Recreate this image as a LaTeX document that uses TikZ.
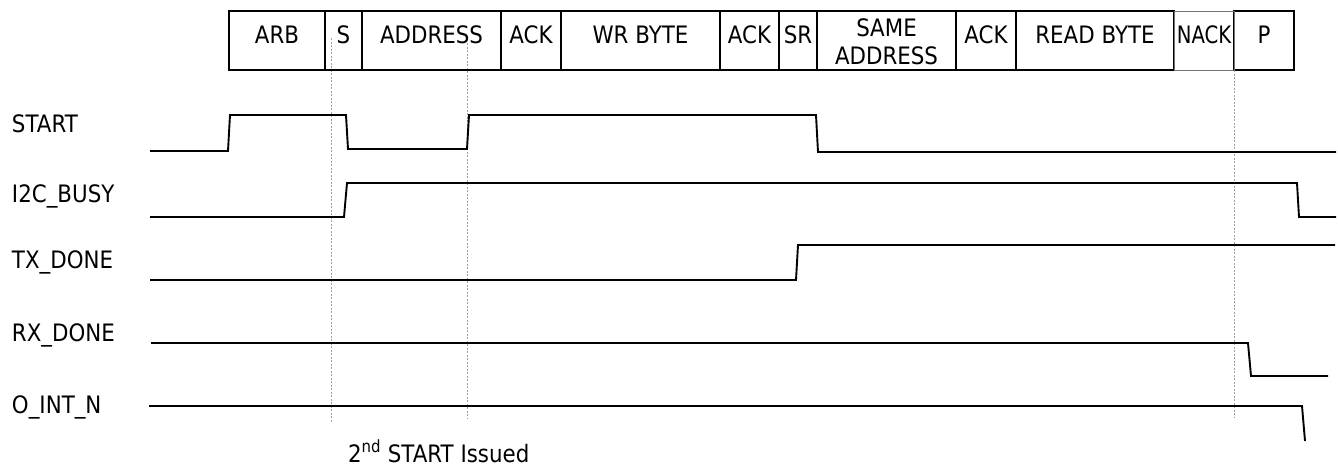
\documentclass[tikz,border=0pt]{standalone}
\usepackage{fontspec}
\setmainfont{DejaVu Sans}[FakeStretch=0.89]
\usepackage{graphicx}
\begin{document}
\begin{tikzpicture}[x=1pt,y=-1pt,
  every node/.style={font=\fontsize{24}{28}\selectfont, inner sep=0pt, outer sep=0pt},
  segbox/.style={draw=black, line width=1.9pt, minimum height=59pt},
  seg/.style={segbox, text height=17.5pt, text depth=12pt},
  wave/.style={line width=1.9pt, line join=miter},
  guide/.style={draw=gray!75, line width=0.8pt, dash pattern=on 2pt off 1.5pt},
  siglabel/.style={anchor=base west}]
\useasboundingbox (0,0) rectangle (1338,467);

% vertical guide lines marking the key instants
\coordinate (g1t) at (331.5,38);  \coordinate (g1b) at (331.5,423);
\coordinate (g2t) at (467,43);    \coordinate (g2b) at (467,419);
\coordinate (g3t) at (1234,28);   \coordinate (g3b) at (1234,417);
\draw[guide] (g1t) -- (g1b);
\draw[guide] (g2t) -- (g2b);
\draw[guide] (g3t) -- (g3b);

% bus transaction frame
\node[seg, minimum width=96pt]  (arb)   at (277,40.5)    {ARB};
\node[seg, minimum width=37pt]  (s)     at (343.5,40.5)  {S};
\node[seg, minimum width=139pt] (addr)  at (431.5,40.5)  {ADDRESS};
\node[seg, minimum width=60pt]  (ack1)  at (531,40.5)    {ACK};
\node[seg, minimum width=159pt] (wr)    at (640.5,40.5)  {WR BYTE};
\node[seg, minimum width=59pt]  (ack2)  at (749.5,40.5)  {ACK};
\node[seg, minimum width=38pt]  (sr)    at (798,40.5)    {SR};
\node[segbox, minimum width=139pt, align=center] (same) at (886.5,40.5)
     {\rule{0pt}{21pt}SAME\\ADDRESS};
\node[seg, minimum width=60pt]  (ack3)  at (986,40.5)    {ACK};
\node[seg, minimum width=158pt] (rd)    at (1095,40.5)   {READ BYTE};
\node[seg, minimum width=60pt]  (stop)  at (1264,40.5)   {P};
\node[seg, draw=black!55, line width=1pt, minimum width=60pt] (nack) at (1204,40.5)
     {\scalebox{0.92}[1]{NACK}};

% signal names
\node[siglabel] (lstart) at (12,132) {START};
\node[siglabel] (lbusy)  at (12,202) {I2C\_BUSY};
\node[siglabel] (ltx)    at (12,268) {TX\_DONE};
\node[siglabel] (lrx)    at (12,341) {RX\_DONE};
\node[siglabel] (lint)   at (12,413) {O\_INT\_N};

% waveforms
\draw[wave] (150,151) -- (228,151) -- (230,115) -- (346,115) -- (348,149)
  -- (467,149) -- (469,115) -- (816,115) -- (818,152) -- (1336,152);
\draw[wave] (150,217) -- (344,217) -- (347,183) -- (1297,183) -- (1299,217) -- (1336,217);
\draw[wave] (150,280) -- (796,280) -- (798,245) -- (1335,245);
\draw[wave] (151,343) -- (1248,343) -- (1251,376) -- (1328,376);
\draw[wave] (149,406) -- (1302,406) -- (1305,441);

% annotation
\node[anchor=base west] (note) at (348,462) {2\textsuperscript{nd} START Issued};
\end{tikzpicture}
\end{document}
